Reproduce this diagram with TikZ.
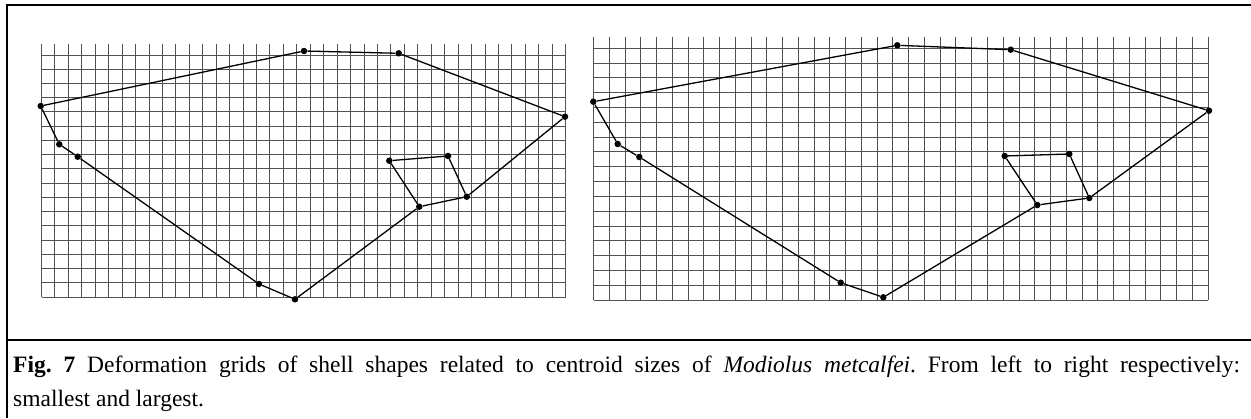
\documentclass[tikz,border=0pt]{standalone}
\usepackage{fontspec}
\setmainfont{Liberation Serif}
\usetikzlibrary{positioning, calc}

\begin{document}
\frenchspacing
\begin{tikzpicture}[x=1pt, y=-1pt,%
  gridline/.style={draw=black!68, line width=1pt},%
  outline/.style={draw=black, line width=1.3pt},%
  landmark/.style={circle, fill=black, inner sep=0pt, minimum size=6.5pt},%
  frame/.style={draw=black, line width=2.3pt},%
  caption/.style={text width=1227pt, align=justify, inner sep=0pt, font=\fontsize{23.5}{34}\selectfont}%
]
  \useasboundingbox (0,0) rectangle (1251,418);
  % deformation grid, smallest
  \foreach \i in {0,...,39} \draw[gridline] ({41.5+\i*13.44},44) -- ({41.5+\i*13.44},297);
  \foreach \j in {0,...,17} \draw[gridline] (41.5,{55+\j*14.24}) -- (565.5,{55+\j*14.24});
  % deformation grid, largest
  \foreach \i in {0,...,39} \draw[gridline] ({593.5+\i*15.76},37) -- ({593.5+\i*15.76},300);
  \foreach \j in {0,...,17} \draw[gridline] (593.5,{48.3+\j*14.81}) -- (1208,{48.3+\j*14.81});

  % landmarks, smallest
  \node[landmark] (lA) at (40.7,106) {};
  \node[landmark] (lB) at (59.3,144.3) {};
  \node[landmark] (lC) at (77.7,156.7) {};
  \node[landmark] (lD) at (259,284) {};
  \node[landmark] (lE) at (295,299.3) {};
  \node[landmark] (lF) at (419.3,206.7) {};
  \node[landmark] (lG) at (466.7,196.7) {};
  \node[landmark] (lH) at (565,116.7) {};
  \node[landmark] (lI) at (398.7,53.3) {};
  \node[landmark] (lJ) at (304,51) {};
  \node[landmark] (lK) at (389.3,160.7) {};
  \node[landmark] (lL) at (448,156) {};
  \draw[outline] (lA) -- (lJ) -- (lI) -- (lH) -- (lG) -- (lF) -- (lE) -- (lD) -- (lC) -- (lB) -- (lA);
  \draw[outline] (lF) -- (lK) -- (lL) -- (lG);

  % landmarks, largest
  \node[landmark] (rA) at (593.3,101.7) {};
  \node[landmark] (rB) at (617.7,144) {};
  \node[landmark] (rC) at (639.3,157) {};
  \node[landmark] (rD) at (840.7,282.7) {};
  \node[landmark] (rE) at (883.3,297.3) {};
  \node[landmark] (rF) at (1037.3,205) {};
  \node[landmark] (rG) at (1089.3,198) {};
  \node[landmark] (rH) at (1209,110.7) {};
  \node[landmark] (rI) at (1010.7,49.7) {};
  \node[landmark] (rJ) at (897.3,45.3) {};
  \node[landmark] (rK) at (1004.7,156) {};
  \node[landmark] (rL) at (1069.3,154) {};
  \draw[outline] (rA) -- (rJ) -- (rI) -- (rH) -- (rG) -- (rF) -- (rE) -- (rD) -- (rC) -- (rB) -- (rA);
  \draw[outline] (rF) -- (rK) -- (rL) -- (rG);

  % frame and caption
  \draw[frame] (1251,5) -- (7,5) -- (7,418);
  \draw[frame] (7,340) -- (1251,340);
  \node[caption, anchor=base west] (cap) at (13,372) {\textbf{Fig.\ 7} Deformation grids of shell shapes related to centroid sizes of \textit{Modiolus metcalfei}. From left to right respectively:\linebreak smallest and largest.};
\end{tikzpicture}
\end{document}
